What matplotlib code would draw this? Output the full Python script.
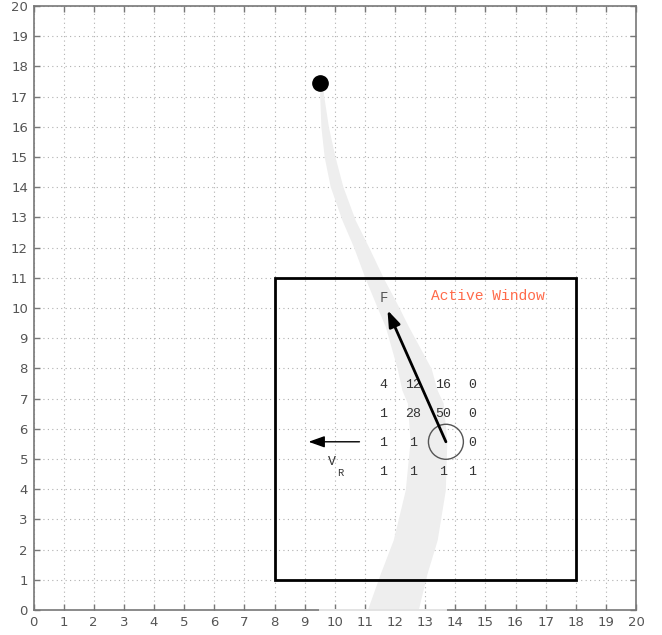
import matplotlib
matplotlib.use("Agg")
import matplotlib.pyplot as plt
from matplotlib.patches import Rectangle, Circle, FancyArrowPatch

# ---- data ----
band_y     = [0.0, 1.2, 2.32, 3.97, 5.6, 6.85, 7.28, 8.0, 9.38, 10.04, 10.98, 12.03, 12.91, 14.02, 15.0, 16.0, 17.05, 17.45]
band_left  = [11.08, 11.51, 11.94, 12.34, 12.5, 12.41, 12.23, 12.07, 11.68, 11.40, 11.01, 10.62, 10.24, 9.85, 9.65, 9.54, 9.50, 9.50]
band_right = [12.77, 13.06, 13.40, 13.67, 13.72, 13.6, 13.4, 13.2, 12.45, 12.12, 11.62, 11.12, 10.68, 10.27, 10.01, 9.79, 9.63, 9.60]

target = (9.52, 17.45)
window_x = [8, 18]
window_y = [1, 11]

cell_cols = [11.6, 12.6, 13.6, 14.55]
cell_rows = [7.45, 6.5, 5.54, 4.58]
cell_values = [["4", "12", "16", "0"],
               ["1", "28", "50", "0"],
               ["1", "1", "", "0"],
               ["1", "1", "1", "1"]]

robot = (13.69, 5.57)
robot_radius = 0.58
force_tip = (11.75, 9.93)
vr_tail = (10.82, 5.57)
vr_head = (9.13, 5.57)

ticks = list(range(0, 21))

# ---- figure ----
fig = plt.figure(figsize=(6.62, 6.35), dpi=100)
ax = fig.add_axes([33.5 / 662, 1 - 610 / 635, (636 - 33.5) / 662, (610 - 6) / 635])
ax.set_xlim(0, 20)
ax.set_ylim(0, 20)
ax.set_xticks(ticks)
ax.set_yticks(ticks)
ax.tick_params(direction="in", top=True, right=True, length=4, width=1,
               color="#777777", labelcolor="#555555", labelsize=9.5, pad=4)
for s in ax.spines.values():
    s.set_color("#777777")
    s.set_linewidth(1.2)
ax.grid(True, color="#b0b0b0", linestyle=(0, (1, 3)), linewidth=0.8)
ax.set_axisbelow(True)

# path band
ax.fill_betweenx(band_y, band_left, band_right, color="#eeeeee", linewidth=0, zorder=1)
ax.plot([9.5, 13.7], [0, 0], color="#e6e6e6", lw=1.4, clip_on=False, zorder=3)

# active window
ax.add_patch(Rectangle((window_x[0], window_y[0]), window_x[1] - window_x[0],
                       window_y[1] - window_y[0], fill=False, edgecolor="black",
                       linewidth=2.0, zorder=4))

# target
ax.plot([target[0]], [target[1]], "o", color="black", markersize=11, zorder=5)

# cell values
mono = ["Liberation Mono", "DejaVu Sans Mono"]
for r, row in enumerate(cell_values):
    for c, v in enumerate(row):
        if v:
            ax.text(cell_cols[c], cell_rows[r], v, ha="center", va="center",
                    fontsize=9.5, family=mono, color="#333333", zorder=4)

# robot circle
ax.add_patch(Circle(robot, robot_radius, fill=False, edgecolor="#555555", linewidth=1.0, zorder=5))

# force arrow
ax.add_patch(FancyArrowPatch(robot, force_tip, arrowstyle="-|>,head_length=0.7,head_width=0.25",
                             mutation_scale=14, color="black", linewidth=2.0,
                             shrinkA=0, shrinkB=0, zorder=6))
ax.text(11.62, 10.32, "F", ha="center", va="center", fontsize=10, family=mono,
        color="#555555", zorder=6)

# V_R arrow
ax.add_patch(FancyArrowPatch(vr_tail, vr_head, arrowstyle="-|>,head_length=0.7,head_width=0.25",
                             mutation_scale=14, color="black", linewidth=1.0,
                             shrinkA=0, shrinkB=0, zorder=6))
ax.text(9.9, 4.9, "V", ha="center", va="center", fontsize=9.5, family=mono, color="#333333")
ax.text(10.17, 4.55, "R", ha="center", va="center", fontsize=7.5, family=mono, color="#333333")

ax.text(15.08, 10.4, "Active Window", ha="center", va="center", fontsize=10.5,
        family=mono, color="#ff6a4a", zorder=6)

fig.savefig("out.png", dpi=100)
